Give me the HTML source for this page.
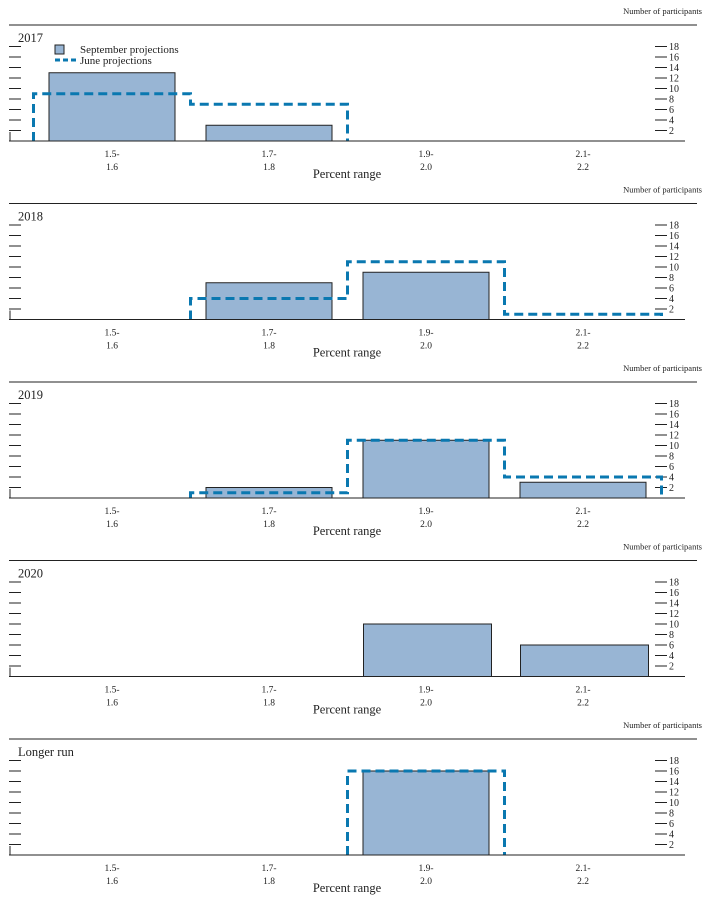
<!DOCTYPE html>
<html><head><meta charset="utf-8">
<style>
html,body{margin:0;padding:0;background:#fff;}
svg{display:block;font-family:"Liberation Serif",serif;}
</style></head>
<body>
<svg id="chart" width="718" height="901" viewBox="0 0 718 901"></svg>
<script>
const categories = ["1.5-1.6","1.7-1.8","1.9-2.0","2.1-2.2"];
const catTop = ["1.5-","1.7-","1.9-","2.1-"];
const catBot = ["1.6","1.8","2.0","2.2"];
const panelTitles = ["2017","2018","2019","2020","Longer run"];
const septValues = [
  [13,3,0,0],
  [0,7,9,0],
  [0,2,11,3],
  [0,0,10,6],
  [0,0,16,0]
];
const juneValues = [
  [9,7,0,0],
  [0,4,11,1],
  [0,1,11,4],
  null,
  [0,0,16,0]
];
const yTicks = [2,4,6,8,10,12,14,16,18];

const NS="http://www.w3.org/2000/svg";
const svg=document.getElementById('chart');
function mk(tag,attrs,parent){const e=document.createElementNS(NS,tag);for(const k in attrs)e.setAttribute(k,attrs[k]);(parent||svg).appendChild(e);return e;}
const pxPerUnit=5.25, binW=157, firstCenter=112, barW=126;
function xc(i){return firstCenter+binW*i;}

panelTitles.forEach((title,p)=>{
  const top=25+p*178.5;
  const base=top+116;
  const y=v=>base-v*pxPerUnit;
  const g=mk('g',{});
  
  
  const np=mk('text',{x:702,y:top-11,'font-size':8.5,'text-anchor':'end',fill:'#222'},g);
  np.textContent='Number of participants';
  
  const rule=mk('line',{x1:9,x2:697,y1:top,y2:top,stroke:'#222','stroke-width':1},g);
  
  const t=mk('text',{x:18,y:top+17,'font-size':12.5,fill:'#222'},g);
  t.textContent=title;
  
  yTicks.forEach(v=>{
    mk('line',{x1:9,x2:21,y1:y(v),y2:y(v),stroke:'#222','stroke-width':1},g);
    mk('line',{x1:655,x2:667,y1:y(v),y2:y(v),stroke:'#222','stroke-width':1},g);
    const l=mk('text',{x:669,y:y(v)+3.5,'font-size':10,fill:'#222'},g);
    l.textContent=v;
    
  });
  mk('line',{x1:10,x2:10,y1:base-9,y2:base,stroke:'#222','stroke-width':1},g);
  const bw = p===3 ? 128 : barW;
  const shift = p===3 ? 1.5 : 0;
  septValues[p].forEach((v,i)=>{
    if(v<=0)return;
    const r=mk('rect',{x:xc(i)-bw/2+shift,y:y(v),width:bw,height:v*pxPerUnit,fill:'#98b5d4',stroke:'#222','stroke-width':1},g);
    
  });
  const jv=juneValues[p];
  if(jv){
    let d='';
    let i=0;
    while(i<jv.length){
      if(jv[i]>0){
        let x0=xc(i)-binW/2;
        d+='M'+x0+' '+base+' L'+x0+' '+y(jv[i])+' ';
        let pv=jv[i];
        while(i<jv.length&&jv[i]>0){
          const xa=xc(i)-binW/2, xb=xc(i)+binW/2;
          if(jv[i]!==pv){d+='L'+xa+' '+y(jv[i])+' ';pv=jv[i];}
          d+='L'+xb+' '+y(jv[i])+' ';
          i++;
        }
        d+='L'+(xc(i-1)+binW/2)+' '+base+' ';
      } else i++;
    }
    const pth=mk('path',{d:d,fill:'none',stroke:'#0a78b0','stroke-width':3,'stroke-dasharray':'9,5'},g);
    
  }
  const ax=mk('line',{x1:9,x2:685,y1:base,y2:base,stroke:'#222','stroke-width':1},g);
  
  categories.forEach((c,i)=>{
    const a=mk('text',{x:xc(i),y:base+16,'font-size':9.5,'text-anchor':'middle',fill:'#222'},g);
    a.textContent=catTop[i];
    
    const b=mk('text',{x:xc(i),y:base+29,'font-size':9.5,'text-anchor':'middle',fill:'#222'},g);
    b.textContent=catBot[i];
    
  });
  const xt=mk('text',{x:347,y:base+37,'font-size':12.5,'text-anchor':'middle',fill:'#222'},g);
  xt.textContent='Percent range';
  
  if(p===0){
    const lg=mk('g',{},g);
    
    mk('rect',{x:55,y:45,width:9,height:9,fill:'#98b5d4',stroke:'#222','stroke-width':1},lg);
    const l1=mk('text',{x:80,y:53,'font-size':11,fill:'#222'},lg);
    l1.textContent='September projections';
    
    mk('line',{x1:55,x2:77,y1:60,y2:60,stroke:'#0a78b0','stroke-width':3,'stroke-dasharray':'5,3'},lg);
    const l2=mk('text',{x:80,y:64,'font-size':11,fill:'#222'},lg);
    l2.textContent='June projections';
    
  }
});
</script>
</body></html>
